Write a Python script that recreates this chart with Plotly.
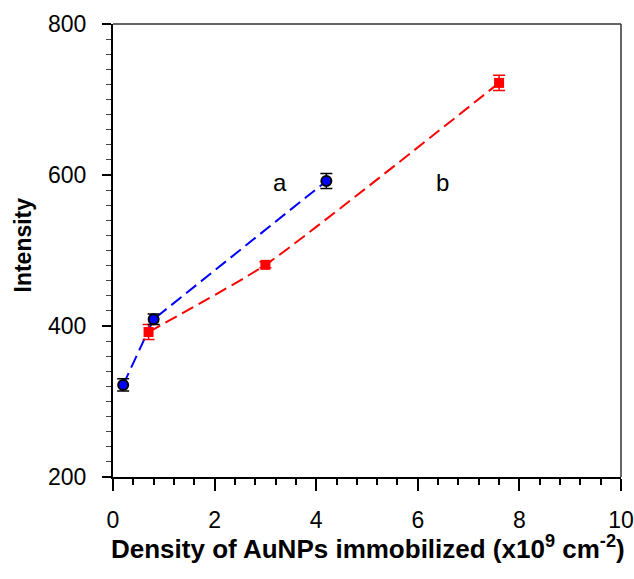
import plotly.graph_objects as go

# Series a (blue circles)
a_x = [0.2, 0.8, 4.2]
a_y = [322, 409, 592]
a_err = [8, 7, 10]

# Series b (red squares)
b_x = [0.7, 3.0, 7.6]
b_y = [392, 481, 722]
b_err = [10, 4, 10]

# Curve labels
label_text = ["a", "b"]
label_x = [3.28, 6.48]
label_y = [590, 590]

x_title = "<b>Density of AuNPs immobilized (x10<sup>9</sup> cm<sup>-2</sup>)</b>"
y_title = "<b>Intensity</b>"

FONT = "Liberation Sans, Arial, sans-serif"

fig = go.Figure()
fig.add_trace(go.Scatter(
    x=b_x, y=b_y, mode="lines",
    line=dict(color="#ff0000", width=2, dash="13px,6px", shape="spline", smoothing=0.5),
    showlegend=False, hoverinfo="skip"))
fig.add_trace(go.Scatter(
    x=a_x, y=a_y, mode="lines",
    line=dict(color="#0000ff", width=2, dash="13px,6px"),
    showlegend=False, hoverinfo="skip"))
fig.add_trace(go.Scatter(
    x=b_x, y=b_y, mode="markers",
    marker=dict(symbol="square", size=10, color="#ff0000"),
    error_y=dict(type="data", array=b_err, color="#ff0000", thickness=1.5, width=6),
    showlegend=False))
fig.add_trace(go.Scatter(
    x=a_x, y=a_y, mode="markers",
    marker=dict(symbol="circle", size=10, color="#0000ff", line=dict(color="black", width=2)),
    error_y=dict(type="data", array=a_err, color="black", thickness=1.5, width=6),
    showlegend=False))

for t, x, y in zip(label_text, label_x, label_y):
    fig.add_annotation(x=x, y=y, text=t, showarrow=False,
                       font=dict(family=FONT, size=24, color="black"))

# axis titles as annotations
fig.add_annotation(xref="paper", yref="paper", x=0.5, y=0, yanchor="middle",
                   yshift=-70, xshift=1, text=x_title, showarrow=False,
                   font=dict(family=FONT, size=26, color="black"))
fig.add_annotation(xref="paper", yref="paper", x=0, y=0.5, xanchor="center",
                   xshift=-91, yshift=5, text=y_title, textangle=-90, showarrow=False,
                   font=dict(family=FONT, size=23, color="black"))

# thin frame on top and right
fig.add_shape(type="line", xref="paper", yref="paper", x0=0, x1=1, y0=1, y1=1,
              line=dict(color="#333333", width=1.5))
fig.add_shape(type="line", xref="paper", yref="paper", x0=1, x1=1, y0=0, y1=1,
              line=dict(color="#333333", width=1.5))

fig.update_layout(
    width=634, height=579,
    margin=dict(l=113, r=13, t=24, b=102),
    plot_bgcolor="white", paper_bgcolor="white",
    font=dict(family=FONT, size=23, color="black"),
    hovermode=False,
    xaxis=dict(
        range=[0, 10], dtick=2, tick0=0,
        automargin=False,
        showgrid=False, zeroline=False,
        showline=True, linecolor="black", linewidth=2,
        ticks="outside", ticklen=12, tickwidth=2, tickcolor="black",
        minor=dict(dtick=0.4, ticks="outside", ticklen=6, tickwidth=1.5, tickcolor="black", showgrid=False),
        tickfont=dict(size=23),
        ticklabelstandoff=9,
    ),
    yaxis=dict(
        range=[200, 800], dtick=200, tick0=200,
        automargin=False,
        showgrid=False, zeroline=False,
        showline=True, linecolor="black", linewidth=2,
        ticks="outside", ticklen=9, tickwidth=2, tickcolor="black",
        minor=dict(dtick=20, ticks="outside", ticklen=5, tickwidth=1, tickcolor="#444444", showgrid=False),
        tickfont=dict(size=23),
        ticklabelstandoff=11,
    ),
)

fig.write_html("out.html",
               config={"displayModeBar": False},
               post_script="document.body.style.margin='0';document.body.style.overflow='hidden';")
